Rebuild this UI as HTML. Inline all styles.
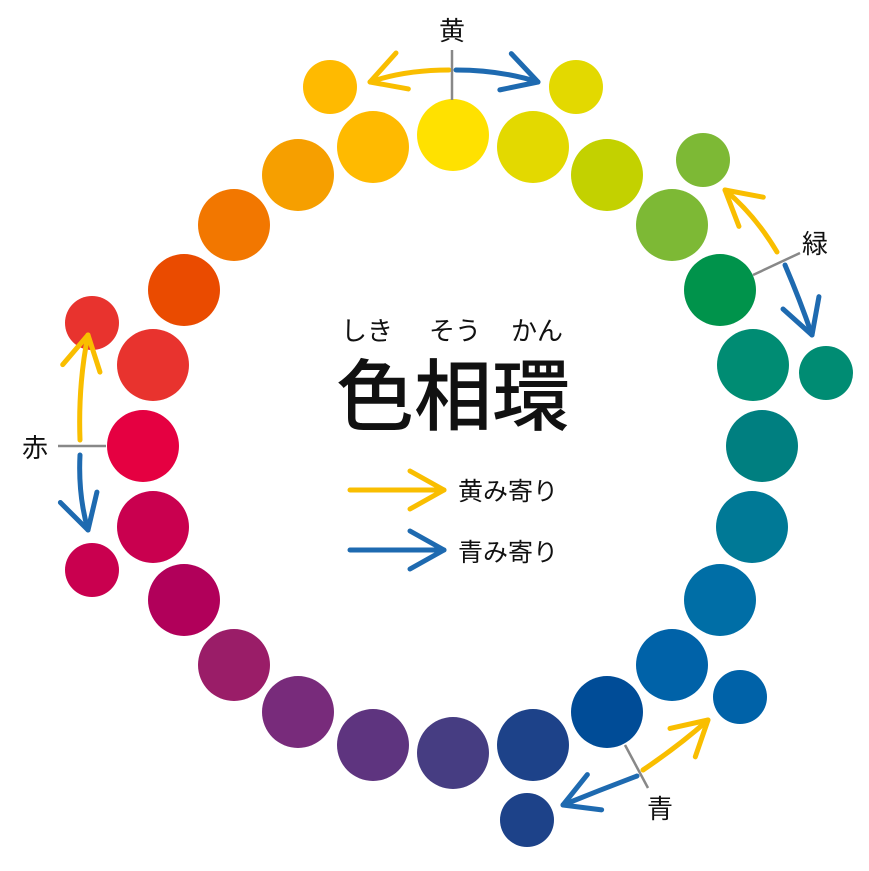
<!DOCTYPE html>
<html><head><meta charset="utf-8"><style>
html,body{margin:0;padding:0;background:#fff;width:869px;height:871px;overflow:hidden}
text{font-family:"Liberation Sans","Noto Sans CJK JP",sans-serif}
</style></head><body>
<svg width="869" height="871" viewBox="0 0 869 871" xmlns="http://www.w3.org/2000/svg">
<defs>
<marker id="ay" viewBox="0 0 44 44" refX="38" refY="22" markerWidth="44" markerHeight="44" markerUnits="userSpaceOnUse" orient="auto"><path d="M4,3 L38,22 L4,41" fill="none" stroke="#F9BE00" stroke-width="5" stroke-linecap="round" stroke-linejoin="round"/></marker>
<marker id="ab" viewBox="0 0 44 44" refX="38" refY="22" markerWidth="44" markerHeight="44" markerUnits="userSpaceOnUse" orient="auto"><path d="M4,3 L38,22 L4,41" fill="none" stroke="#1E6AB0" stroke-width="5" stroke-linecap="round" stroke-linejoin="round"/></marker>
</defs>
<g>
<circle cx="453" cy="135" r="36" fill="#FFE100"/>
<circle cx="533" cy="147" r="36" fill="#E3D900"/>
<circle cx="607" cy="175" r="36" fill="#C3D100"/>
<circle cx="672" cy="225" r="36" fill="#7DB935"/>
<circle cx="720" cy="290" r="36" fill="#00934B"/>
<circle cx="753" cy="365" r="36" fill="#008C73"/>
<circle cx="762" cy="446" r="36" fill="#007F80"/>
<circle cx="752" cy="527" r="36" fill="#007996"/>
<circle cx="720" cy="600" r="36" fill="#006EA6"/>
<circle cx="672" cy="665" r="36" fill="#0062A8"/>
<circle cx="607" cy="712" r="36" fill="#004C97"/>
<circle cx="533" cy="745" r="36" fill="#1D4289"/>
<circle cx="453" cy="753" r="36" fill="#463D82"/>
<circle cx="373" cy="745" r="36" fill="#5E347F"/>
<circle cx="298" cy="712" r="36" fill="#782B7B"/>
<circle cx="234" cy="665" r="36" fill="#9A1D68"/>
<circle cx="184" cy="600" r="36" fill="#B1005A"/>
<circle cx="153" cy="527" r="36" fill="#C9004F"/>
<circle cx="143" cy="446" r="36" fill="#E50041"/>
<circle cx="153" cy="365" r="36" fill="#E8332E"/>
<circle cx="184" cy="290" r="36" fill="#EA4B00"/>
<circle cx="234" cy="225" r="36" fill="#F27700"/>
<circle cx="298" cy="175" r="36" fill="#F69F00"/>
<circle cx="373" cy="147" r="36" fill="#FFBA00"/>
<circle cx="330" cy="87" r="27" fill="#FFBA00"/>
<circle cx="576" cy="87" r="27" fill="#E3D900"/>
<circle cx="703" cy="160" r="27" fill="#7DB935"/>
<circle cx="826" cy="373" r="27" fill="#008C73"/>
<circle cx="740" cy="697" r="27" fill="#0062A8"/>
<circle cx="527" cy="820" r="27" fill="#1D4289"/>
<circle cx="92" cy="570" r="27" fill="#C9004F"/>
<circle cx="92" cy="323" r="27" fill="#E8332E"/>
</g>
<g fill="none" stroke-width="5" stroke-linecap="round">
<path d="M449,70 Q405,70 370,82" stroke="#F9BE00" marker-end="url(#ay)"/>
<path d="M456,70 Q500,70 538,82" stroke="#1E6AB0" marker-end="url(#ab)"/>
<path d="M777,252 Q755,215 725,190" stroke="#F9BE00" marker-end="url(#ay)"/>
<path d="M785,265 Q800,300 812,335" stroke="#1E6AB0" marker-end="url(#ab)"/>
<path d="M643,770 Q680,745 708,720" stroke="#F9BE00" marker-end="url(#ay)"/>
<path d="M637,776 Q600,790 563,805" stroke="#1E6AB0" marker-end="url(#ab)"/>
<path d="M80,440 Q78,385 88,335" stroke="#F9BE00" marker-end="url(#ay)"/>
<path d="M80,455 Q78,495 88,530" stroke="#1E6AB0" marker-end="url(#ab)"/>
<line x1="350" y1="490" x2="444" y2="490" stroke="#F9BE00" marker-end="url(#ay)"/>
<line x1="350" y1="550" x2="444" y2="550" stroke="#1E6AB0" marker-end="url(#ab)"/>
</g>
<g stroke="#888" stroke-width="2.5" fill="none">
<line x1="452" y1="50" x2="452" y2="100"/>
<line x1="800" y1="253" x2="753" y2="275"/>
<line x1="625" y1="745" x2="648" y2="788"/>
<line x1="58" y1="446" x2="106" y2="446"/>
</g>
<g fill="#111">
<text x="452" y="40" font-size="26" text-anchor="middle">黄</text>
<text x="815" y="253" font-size="26" text-anchor="middle">緑</text>
<text x="660" y="818" font-size="26" text-anchor="middle">青</text>
<text x="35" y="457" font-size="26" text-anchor="middle">赤</text>
<text x="367" y="340" font-size="26" text-anchor="middle">しき</text>
<text x="455" y="340" font-size="26" text-anchor="middle">そう</text>
<text x="537" y="340" font-size="26" text-anchor="middle">かん</text>
<text x="453" y="424" font-size="78" font-weight="500" text-anchor="middle">色相環</text>
<text x="458" y="500" font-size="25">黄み寄り</text>
<text x="458" y="561" font-size="25">青み寄り</text>
</g>
</svg>
</body></html>
